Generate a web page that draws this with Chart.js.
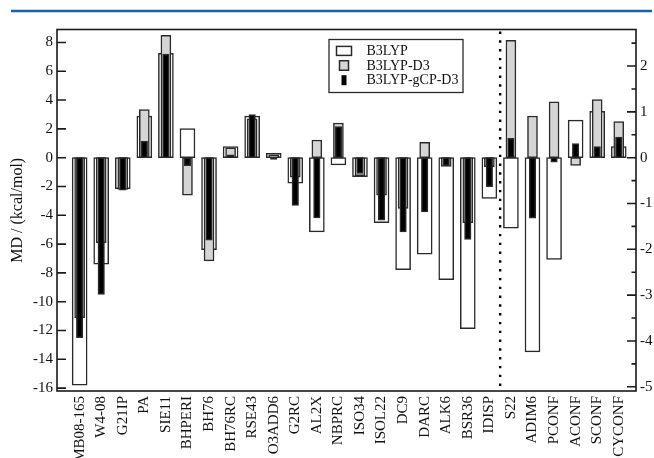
<!DOCTYPE html>
<html>
<head>
<meta charset="utf-8">
<script src="https://cdn.jsdelivr.net/npm/chart.js@4.4.1/dist/chart.umd.min.js"></script>
<style>
  html, body { margin: 0; padding: 0; background: #fff; }
  #wrap { width: 654px; height: 458px; position: relative; }
</style>
</head>
<body>
<div id="wrap"><canvas id="chart" width="654" height="458"></canvas></div>
<script>
// Benchmark sets on the left (kcal/mol axis) and on the right (second axis)
const setsLeft = ['MB08-165', 'W4-08', 'G21IP', 'PA', 'SIE11', 'BHPERI', 'BH76', 'BH76RC',
  'RSE43', 'O3ADD6', 'G2RC', 'AL2X', 'NBPRC', 'ISO34', 'ISOL22', 'DC9', 'DARC', 'ALK6',
  'BSR36', 'IDISP'];
const setsRight = ['S22', 'ADIM6', 'PCONF', 'ACONF', 'SCONF', 'CYCONF'];

// Mean deviations, B3LYP
const b3lypLeft = [-15.8, -7.4, -2.15, 2.88, 7.24, 2.02, -6.38, 0.77, 2.88, 0.3, -1.77, -5.15,
  -0.5, -1.32, -4.52, -7.77, -6.7, -8.47, -11.88, -2.83];
const b3lypRight = [-1.54, -4.24, -2.22, 0.82, 1.01, 0.24];

// Mean deviations, B3LYP-D3
const d3Left = [-11.1, -5.9, -2.2, 3.34, 8.49, -2.6, -7.17, 0.68, 2.7, 0.2, -1.35, 1.23,
  2.41, -1.25, -2.6, -3.53, 1.07, -0.6, -4.52, -0.63];
const d3Right = [2.56, 0.91, 1.22, -0.17, 1.27, 0.79];

// Mean deviations, B3LYP-gCP-D3
const gcpLeft = [-12.5, -9.49, -2.25, 1.14, 7.2, -0.56, -5.73, 0.19, 3.0, -0.12, -3.32, -4.18,
  2.16, -1.1, -4.34, -5.15, -3.76, -0.55, -5.68, -2.02];
const gcpRight = [0.42, -1.32, -0.1, 0.31, 0.24, 0.45];

const seriesNames = ['B3LYP', 'B3LYP-D3', 'B3LYP-gCP-D3'];
const leftTicks = [8, 6, 4, 2, 0, -2, -4, -6, -8, -10, -12, -14, -16];
const rightTicks = [2, 1, 0, -1, -2, -3, -4, -5];
const rightMinorTicks = [2.5, 1.5, 0.5, -0.5, -1.5, -2.5, -3.5, -4.5];

const categories = setsLeft.concat(setsRight);

function toPoints(values, start) {
  return values.map((v, i) => ({ x: start + i, y: v }));
}

const seriesStyle = [
  { fill: '#ffffff', thickness: 15, order: 3 },
  { fill: '#d5d5d5', thickness: 10, order: 2 },
  { fill: '#000000', thickness: 6.5, order: 1 }
];
const leftValues = [b3lypLeft, d3Left, gcpLeft];
const rightValues = [b3lypRight, d3Right, gcpRight];

const datasets = [];
seriesNames.forEach((name, s) => {
  const st = seriesStyle[s];
  const common = {
    label: name,
    backgroundColor: st.fill,
    borderColor: '#2a2a2a',
    borderWidth: 1.5,
    borderSkipped: false,
    barThickness: st.thickness,
    order: st.order
  };
  datasets.push(Object.assign({}, common, { data: toPoints(leftValues[s], 0), yAxisID: 'y' }));
  datasets.push(Object.assign({}, common, { data: toPoints(rightValues[s], setsLeft.length), yAxisID: 'y2' }));
});

const SERIF = "'Liberation Serif', 'Times New Roman', serif";
Chart.defaults.font.family = SERIF;
Chart.defaults.color = '#111';

// Page rule, frame, inward ticks, dotted separator and the boxed legend
const decorations = {
  id: 'decorations',
  beforeDraw(chart) {
    const ctx = chart.ctx;
    ctx.save();
    ctx.fillStyle = '#fff';
    ctx.fillRect(0, 0, chart.width, chart.height);
    ctx.strokeStyle = '#1c5fae';
    ctx.lineWidth = 2.6;
    ctx.beginPath();
    ctx.moveTo(11, 11);
    ctx.lineTo(652, 11);
    ctx.stroke();
    ctx.restore();
  },
  afterDatasetsDraw(chart) {
    const { ctx, chartArea: a, scales } = chart;
    ctx.save();

    // dotted separator between the two groups
    const xs = scales.x.getPixelForValue(setsLeft.length - 0.5);
    ctx.strokeStyle = '#000';
    ctx.lineWidth = 2.4;
    ctx.setLineDash([2.4, 6.4]);
    ctx.beginPath();
    ctx.moveTo(xs, a.top + 2);
    ctx.lineTo(xs, a.bottom);
    ctx.stroke();
    ctx.setLineDash([]);

    // plot frame
    ctx.strokeStyle = '#1a1a1a';
    ctx.lineWidth = 1.6;
    ctx.strokeRect(a.left, a.top, a.right - a.left, a.bottom - a.top);

    // inward tick marks
    ctx.lineWidth = 1.6;
    ctx.beginPath();
    leftTicks.forEach(v => {
      const y = scales.y.getPixelForValue(v);
      ctx.moveTo(a.left, y);
      ctx.lineTo(a.left + 9, y);
    });
    rightTicks.forEach(v => {
      const y = scales.y2.getPixelForValue(v);
      ctx.moveTo(a.right, y);
      ctx.lineTo(a.right - 9, y);
    });
    rightMinorTicks.forEach(v => {
      const y = scales.y2.getPixelForValue(v);
      ctx.moveTo(a.right, y);
      ctx.lineTo(a.right - 4.5, y);
    });
    ctx.stroke();

    // legend box
    const lx = a.left + 272, ly = a.top + 10, lw = 134, lh = 53;
    ctx.fillStyle = '#fff';
    ctx.fillRect(lx, ly, lw, lh);
    ctx.strokeStyle = '#2a2a2a';
    ctx.lineWidth = 1.3;
    ctx.strokeRect(lx, ly, lw, lh);
    const rows = [11.4, 26, 40.7];
    const symbols = [[15, 9], [9, 9.5], [5, 10]];
    ctx.font = '14px ' + SERIF;
    ctx.textBaseline = 'middle';
    ctx.textAlign = 'left';
    seriesNames.forEach((name, s) => {
      const cy = ly + rows[s];
      const cx = lx + 15;
      const [w, h] = symbols[s];
      ctx.fillStyle = seriesStyle[s].fill;
      ctx.fillRect(cx - w / 2, cy - h / 2, w, h);
      if (s < 2) {
        ctx.strokeStyle = '#2a2a2a';
        ctx.lineWidth = 1.5;
        ctx.strokeRect(cx - w / 2, cy - h / 2, w, h);
      }
      ctx.fillStyle = '#111';
      ctx.fillText(name, lx + 37.5, cy + 0.5);
    });
    ctx.restore();
  }
};

new Chart(document.getElementById('chart'), {
  type: 'bar',
  data: { datasets },
  plugins: [decorations],
  options: {
    responsive: false,
    animation: false,
    layout: { padding: { top: 29.5, left: 0, right: 0, bottom: 0 } },
    plugins: { legend: { display: false }, tooltip: { enabled: false } },
    datasets: { bar: { grouped: false } },
    scales: {
      x: {
        type: 'linear',
        offset: false,
        min: -1.05,
        max: 25.8,
        grid: { display: false, drawTicks: false, offset: false },
        border: { display: false },
        afterBuildTicks: s => { s.ticks = categories.map((_, i) => ({ value: i })); },
        afterFit: s => { s.height = 67; },
        ticks: {
          autoSkip: false,
          minRotation: 90,
          maxRotation: 90,
          padding: 5,
          font: { size: 15 },
          color: '#111',
          callback: v => categories[v]
        }
      },
      y: {
        position: 'left',
        min: -16.2,
        max: 8.9,
        grid: { display: false, drawTicks: false },
        border: { display: false },
        afterBuildTicks: s => { s.ticks = leftTicks.map(v => ({ value: v })); },
        afterFit: s => { s.width = 57; },
        ticks: { padding: 4, font: { size: 15 }, color: '#111', callback: v => String(v) },
        title: {
          display: true,
          text: 'MD / (kcal/mol)',
          font: { size: 16 },
          color: '#111',
          padding: { top: 8, bottom: 0 }
        }
      },
      y2: {
        position: 'right',
        min: -5.093,
        max: 2.798,
        grid: { display: false, drawTicks: false },
        border: { display: false },
        afterBuildTicks: s => { s.ticks = rightTicks.map(v => ({ value: v })); },
        afterFit: s => { s.width = 18; },
        ticks: { padding: 4, font: { size: 15 }, color: '#111', callback: v => String(v) }
      }
    }
  }
});
</script>
</body>
</html>
